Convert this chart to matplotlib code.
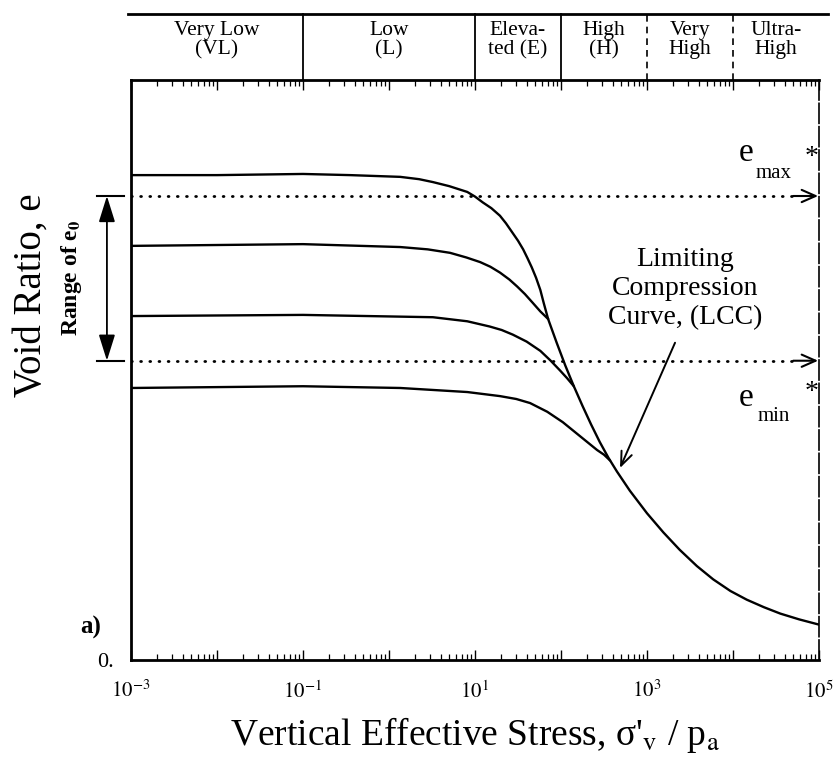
import numpy as np
import matplotlib
matplotlib.use("Agg")
import matplotlib.pyplot as plt
import matplotlib.transforms as mtransforms
from matplotlib.ticker import FixedLocator, FixedFormatter, LogLocator, NullFormatter

plt.rcParams['font.family'] = ['Liberation Serif', 'DejaVu Serif']
plt.rcParams['mathtext.fontset'] = 'stix'

# ---- data: vertical effective stress (sigma'_v / p_a) and void ratio e ----
curve1_s = [0.001, 0.01, 0.1, 0.355, 1.35, 2.24, 3.24, 5.01, 8.13, 10.0, 12.3, 15.5, 19.5,
            22.9, 26.9, 31.6, 36.3, 40.7, 45.7, 51.3, 57.5, 63.1, 70.8]
curve1_e = [0.836, 0.836, 0.838, 0.836, 0.833, 0.829, 0.824, 0.817, 0.807, 0.799, 0.789, 0.779, 0.766,
            0.753, 0.738, 0.723, 0.708, 0.693, 0.677, 0.659, 0.638, 0.615, 0.588]

curve2_s = [0.001, 0.1, 1.35, 2.82, 5.13, 7.94, 11.5, 15.1, 19.5, 25.1, 30.9, 38.0, 46.8, 57.5, 70.8]
curve2_e = [0.714, 0.717, 0.712, 0.708, 0.702, 0.694, 0.686, 0.678, 0.668, 0.656, 0.644, 0.631, 0.616, 0.601, 0.588]

curve3_s = [0.001, 0.1, 3.24, 8.13, 14.8, 20.4, 27.5, 39.8, 57.5, 75.9, 97.7, 117.5, 141.0]
curve3_e = [0.593, 0.595, 0.591, 0.584, 0.575, 0.569, 0.561, 0.549, 0.533, 0.516, 0.499, 0.486, 0.472]

curve4_s = [0.001, 0.1, 1.35, 8.13, 19.5, 30.2, 43.7, 69.2, 105.0, 151.0, 209.0, 263.0, 316.0, 372.0]
curve4_e = [0.469, 0.472, 0.469, 0.462, 0.455, 0.450, 0.443, 0.428, 0.410, 0.391, 0.374, 0.362, 0.354, 0.344]

lcc_s = [70.8, 89.1, 112.0, 141.0, 178.0, 224.0, 282.0, 355.0, 447.0, 631.0, 1000.0,
         1550.0, 2400.0, 3800.0, 5890.0, 9330.0, 14450.0, 22900.0, 35500.0, 58900.0, 100000.0]
lcc_e = [0.588, 0.547, 0.508, 0.472, 0.438, 0.406, 0.376, 0.349, 0.325, 0.292, 0.253,
         0.220, 0.190, 0.162, 0.139, 0.119, 0.104, 0.091, 0.080, 0.070, 0.061]

e_max = 0.800
e_min = 0.516

# stress-level bands along the top
band_edges = [0.001, 0.1, 10.0, 100.0, 1000.0, 10000.0, 100000.0]
band_labels = ["Very Low\n(VL)", "Low\n(L)", "Eleva-\nted (E)", "High\n(H)", "Very\nHigh", "Ultra-\nHigh"]
band_dashed = [False, False, False, True, True]   # style of the inner separators

xtick_exps = [-3, -2, -1, 0, 1, 2, 3, 4, 5]
xtick_labels = ["$10^{-3}$", "", "$10^{-1}$", "", "$10^{1}$", "", "$10^{3}$", "", "$10^{5}$"]

# ---- figure ----
W, H = 836, 765
fig = plt.figure(figsize=(W / 100, H / 100), dpi=100)
ax = fig.add_axes([131 / W, 105 / H, 688 / W, 580 / H])
ax.set_xscale('log')
ax.set_xlim(1e-3, 1e5)
ax.set_ylim(0, 1.0)

line_kw = dict(color='black', lw=1.7, solid_capstyle='round', solid_joinstyle='round')
for s, e in [(curve1_s, curve1_e), (curve2_s, curve2_e), (curve3_s, curve3_e),
             (curve4_s, curve4_e), (lcc_s, lcc_e)]:
    ax.plot(s, e, **line_kw)

# dotted e_max / e_min lines ending in arrows at the right border
for ev in (e_max, e_min):
    ax.plot([1e-3, 10 ** 4.72], [ev, ev], color='black', lw=2.0,
            linestyle=(0, (0.3, 3.0)), dash_capstyle='round')
    ax.annotate('', xy=(10 ** 4.99, ev), xytext=(10 ** 4.70, ev),
                arrowprops=dict(arrowstyle='->,head_length=0.5,head_width=0.22',
                                lw=1.5, color='black', mutation_scale=20,
                                shrinkA=0, shrinkB=0))

# range of e0 arrow left of the axis
ytr = mtransforms.blended_transform_factory(ax.transAxes, ax.transData)
ax.annotate('', xy=(-0.035, e_max), xycoords=ytr, xytext=(-0.035, e_min), textcoords=ytr,
            arrowprops=dict(arrowstyle='<|-|>,head_length=0.8,head_width=0.25',
                            lw=1.3, color='black', mutation_scale=20,
                            shrinkA=0, shrinkB=0),
            annotation_clip=False)
for ev in (e_max, e_min):
    ax.plot([-0.050, -0.010], [ev, ev], transform=ytr, clip_on=False, color='black', lw=1.5)

# top band of stress levels
xtr = mtransforms.blended_transform_factory(ax.transData, ax.transAxes)
band_top = (660 - 14) / 580
ax.plot([-0.004, 1.013], [band_top, band_top], transform=ax.transAxes,
        clip_on=False, color='black', lw=2.0)
for edge, dashed in zip(band_edges[1:-1], band_dashed):
    ax.plot([edge, edge], [1.0, band_top], transform=xtr, clip_on=False, color='black',
            lw=1.3 if not dashed else 1.2,
            linestyle=(0, (4, 3)) if dashed else '-')
for lo, hi, lab in zip(band_edges[:-1], band_edges[1:], band_labels):
    xc = np.sqrt(lo * hi)
    ax.text(xc, (660 - 40) / 580, lab, transform=xtr, ha='center', va='center',
            fontsize=15.5, linespacing=1.05)

# axes frame and ticks
for side in ('left', 'bottom', 'top'):
    ax.spines[side].set_linewidth(2.0)
ax.spines['right'].set_linewidth(1.2)
ax.spines['right'].set_linestyle((0, (12, 2)))

ax.xaxis.set_major_locator(FixedLocator([10.0 ** k for k in xtick_exps]))
ax.xaxis.set_major_formatter(FixedFormatter(xtick_labels))
ax.xaxis.set_minor_locator(LogLocator(base=10, subs=np.arange(2, 10), numticks=50))
ax.xaxis.set_minor_formatter(NullFormatter())
ax.tick_params(axis='x', which='major', direction='in', top=True, bottom=True,
               length=7, width=1.0, labelsize=15, pad=15)
ax.tick_params(axis='x', which='minor', direction='in', top=True, bottom=True,
               length=4, width=0.9)
ax.set_yticks([0.0])
ax.set_yticklabels(['0.'])
ax.tick_params(axis='y', length=0, labelsize=16, pad=12)

# labels
fig.text(31 / W, 1 - 295 / H, 'Void Ratio, e', rotation=90, fontsize=28,
         ha='center', va='center')
fig.text(71 / W, 1 - 278 / H, 'Range of e$_\\mathbf{0}$', rotation=90, fontsize=17,
         weight='bold', ha='center', va='center')
fig.text(475 / W, 1 - 735 / H, "Vertical Effective Stress, σ'$_{\\rm v}$ / p$_{\\rm a}$",
         fontsize=27, ha='center', va='center')
fig.text(91 / W, 1 - 627 / H, 'a)', fontsize=18, weight='bold', ha='center', va='center')

# annotations inside the plot
ax.text(10 ** 3.44, 0.64, 'Limiting\nCompression\nCurve, (LCC)', ha='center',
        va='center', fontsize=20, linespacing=1.2)
ax.annotate('', xy=(10 ** 2.686, 0.331), xytext=(10 ** 3.326, 0.547),
            arrowprops=dict(arrowstyle='->,head_length=0.5,head_width=0.2',
                            lw=1.4, color='black', mutation_scale=20,
                            shrinkA=0, shrinkB=0))

for ev, sub, y_e, y_sub, y_star in ((e_max, 'max', 0.874, 0.838, 0.866),
                                     (e_min, 'min', 0.453, 0.419, 0.462)):
    ax.text(10 ** 4.15, y_e, 'e', ha='center', va='center', fontsize=24)
    ax.text(10 ** 4.47, y_sub, sub, ha='center', va='center', fontsize=15)
    ax.text(10 ** 4.91, y_star, '*', ha='center', va='center', fontsize=20)

fig.savefig('out.png', dpi=100)
